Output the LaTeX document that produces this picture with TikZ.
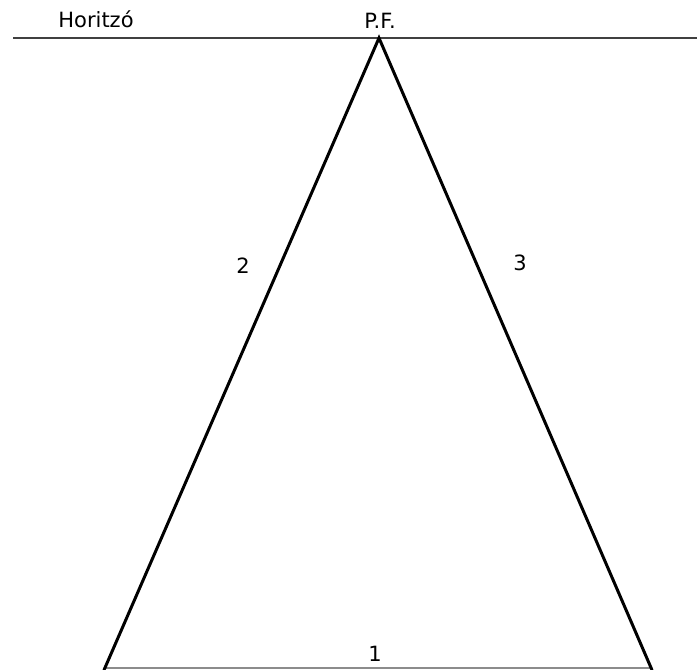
\documentclass[tikz,border=0pt]{standalone}
\usepackage{fontspec}
\setmainfont{DejaVu Sans}
\usetikzlibrary{positioning,calc}
\tikzset{
  costat/.style={line width=3pt, black, line cap=round},
  horitzo/.style={line width=2.5pt, black!75},
  base/.style={line width=1.2pt, black!45},
  etiq/.style={font=\fontsize{21}{24}\selectfont, inner sep=1pt}
}
\begin{document}
\begin{tikzpicture}[x=1pt,y=-1pt]
\useasboundingbox (0,0) rectangle (697,670);

\coordinate (inici) at (13,38);
\coordinate (final) at (697,38);
\coordinate (pf) at (379,38);
\coordinate (esq) at (104,670);
\coordinate (dre) at (652,670);

\draw[horitzo] (inici) -- (final);
\draw[base] ($(esq)+(0,-2)$) -- ($(dre)+(-2,-2)$);
\draw[costat] (esq) -- (pf) -- (dre);

\node[etiq] (thor) at (96,19) {Horitzó};
\node[etiq] (tpf) at (380,21) {P.F.};
\node[etiq] (t1) at (375,654) {1};
\node[etiq] (t2) at (243,266) {2};
\node[etiq] (t3) at (520,263) {3};
\end{tikzpicture}
\end{document}
